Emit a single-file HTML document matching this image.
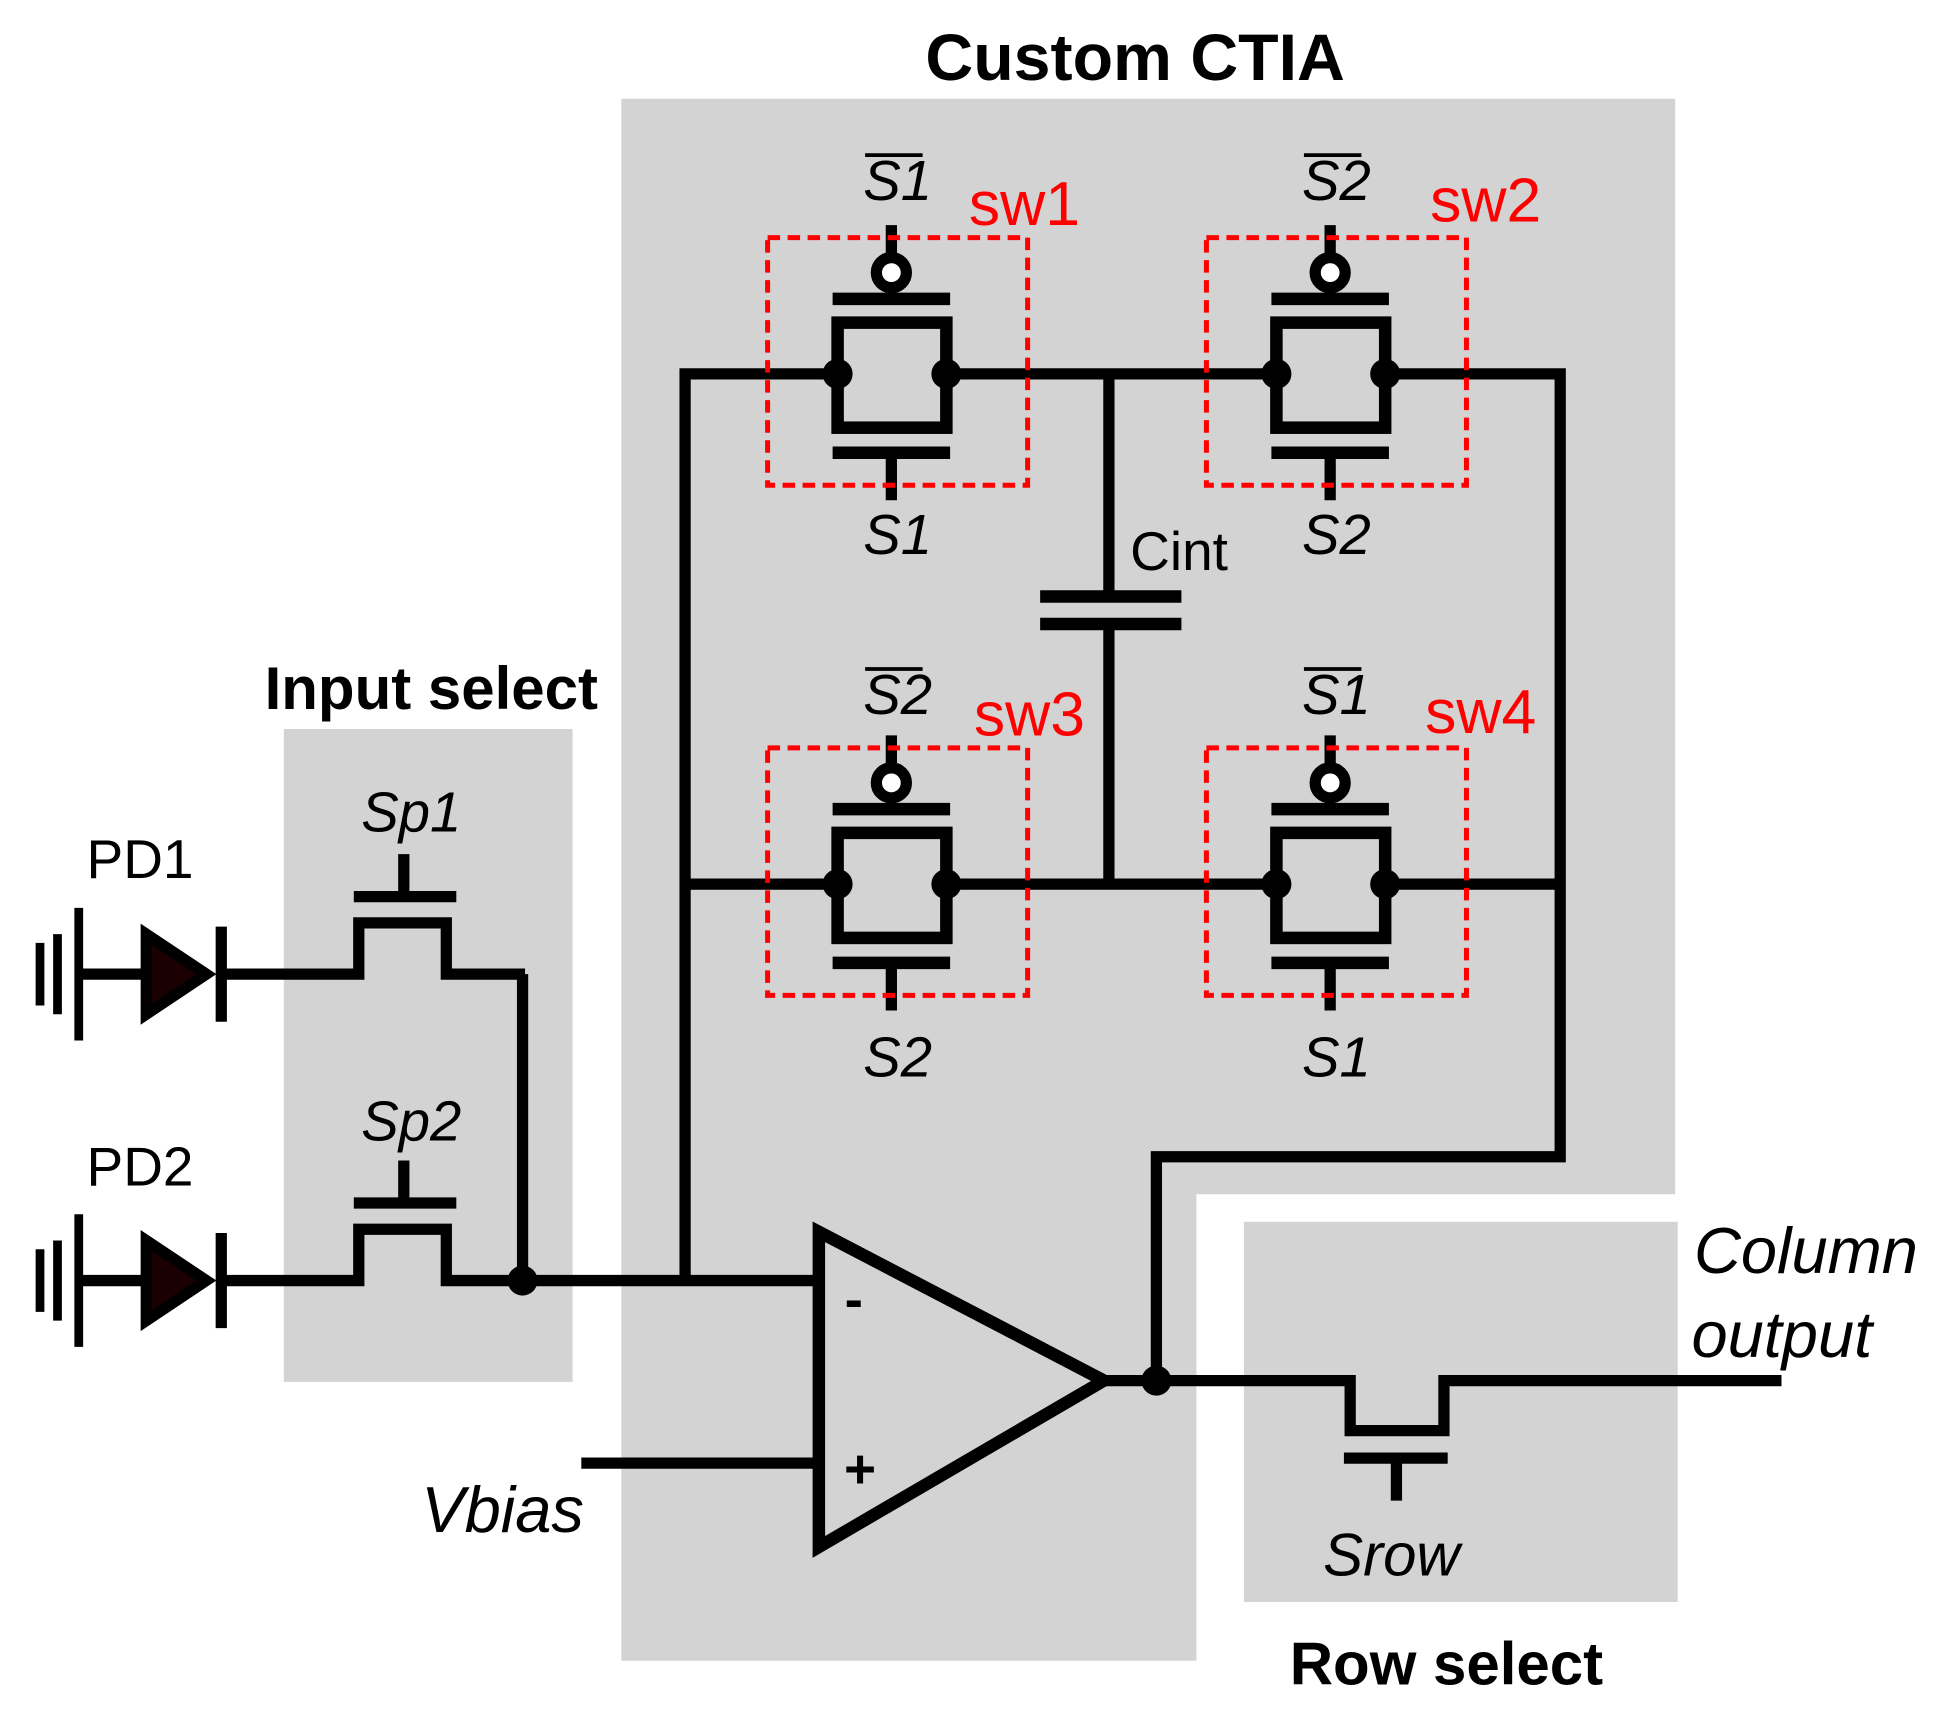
<!DOCTYPE html>
<html><head><style>html,body{margin:0;padding:0;background:#fff}svg{display:block}</style></head>
<body>
<svg width="1959" height="1712" viewBox="0 0 1567 1369" preserveAspectRatio="none" xmlns="http://www.w3.org/2000/svg">
<defs>
<g id="sw">
  <line x1="0" y1="-119" x2="0" y2="-80" stroke="#000" stroke-width="9"/>
  <circle cx="0" cy="-81" r="12" fill="#fff" stroke="#000" stroke-width="9"/>
  <line x1="-47" y1="-60" x2="47" y2="-60" stroke="#000" stroke-width="10"/>
  <rect x="-43" y="-41" width="87" height="84" fill="none" stroke="#000" stroke-width="10"/>
  <line x1="-47" y1="63" x2="47" y2="63" stroke="#000" stroke-width="10"/>
  <line x1="0" y1="63" x2="0" y2="101" stroke="#000" stroke-width="9"/>
  <circle cx="-43" cy="0" r="12" fill="#000"/>
  <circle cx="44" cy="0" r="12" fill="#000"/>
  <rect x="-99" y="-109" width="208" height="198" fill="none" stroke="#f00" stroke-width="4" stroke-dasharray="10,6"/>
</g>
<g id="pd">
  <line x1="32" y1="-25" x2="32" y2="25" stroke="#000" stroke-width="7"/>
  <line x1="46" y1="-32" x2="46" y2="32" stroke="#000" stroke-width="7"/>
  <line x1="63" y1="-53" x2="63" y2="53" stroke="#000" stroke-width="7"/>
  <line x1="63" y1="0" x2="115" y2="0" stroke="#000" stroke-width="9"/>
  <polygon points="117,-32 117,32 165,0" fill="#1a0000" stroke="#000" stroke-width="9"/>
  <line x1="177" y1="-38" x2="177" y2="38" stroke="#000" stroke-width="9"/>
  <polyline points="177,0 287,0 287,-41 357,-41 357,0 420,0" fill="none" stroke="#000" stroke-width="9"/>
  <line x1="283" y1="-62" x2="365" y2="-62" stroke="#000" stroke-width="9"/>
  <line x1="323" y1="-62" x2="323" y2="-96" stroke="#000" stroke-width="9"/>
</g>
</defs>
<path d="M497 79 H1340 V955 H957 V1328 H497 Z" fill="#d3d3d3"/>
<rect x="227" y="583" width="231" height="522" fill="#d3d3d3"/>
<rect x="995" y="977" width="347" height="304" fill="#d3d3d3"/>

<g font-family="Liberation Sans, Arial, sans-serif" font-weight="bold">
<text x="908" y="64" font-size="53" text-anchor="middle">Custom CTIA</text>
<text x="345" y="567" font-size="48" text-anchor="middle">Input select</text>
<text x="1157" y="1347" font-size="48" text-anchor="middle">Row select</text>
</g>

<g stroke="#000" stroke-width="9" fill="none">
  <polyline points="670,299 548,299 548,1024"/>
  <line x1="757" y1="299" x2="1020" y2="299"/>
  <polyline points="1108,299 1248,299 1248,925 925,925 925,1104"/>
  <line x1="548" y1="707" x2="670" y2="707"/>
  <line x1="757" y1="707" x2="1020" y2="707"/>
  <line x1="1108" y1="707" x2="1248" y2="707"/>
  <line x1="887" y1="299" x2="887" y2="475"/>
  <line x1="887" y1="499" x2="887" y2="707"/>
  <line x1="832" y1="477" x2="945" y2="477" stroke-width="10"/>
  <line x1="832" y1="499" x2="945" y2="499" stroke-width="10"/>
  <line x1="418" y1="779" x2="418" y2="1024"/>
  <line x1="418" y1="1024" x2="655" y2="1024"/>
  <line x1="465" y1="1170" x2="655" y2="1170"/>
  <polygon points="655,985 655,1237 883,1104" stroke-width="10"/>
  <polyline points="883,1104 1080,1104 1080,1144 1155,1144 1155,1104 1425,1104"/>
  <line x1="1075" y1="1166" x2="1158" y2="1166"/>
  <line x1="1117" y1="1166" x2="1117" y2="1200"/>
</g>
<circle cx="418" cy="1024" r="12" fill="#000"/>
<circle cx="925" cy="1104" r="12" fill="#000"/>

<use href="#sw" x="713" y="299"/>
<use href="#sw" x="1064" y="299"/>
<use href="#sw" x="713" y="707"/>
<use href="#sw" x="1064" y="707"/>
<use href="#pd" x="0" y="779"/>
<use href="#pd" x="0" y="1024"/>

<g font-family="Liberation Sans, Arial, sans-serif" font-size="45" font-style="italic" text-anchor="middle">
  <text x="718" y="160">S1</text><line x1="692" y1="124" x2="738" y2="124" stroke="#000" stroke-width="3"/>
  <text x="718" y="443">S1</text>
  <text x="1069" y="160">S2</text><line x1="1043" y1="124" x2="1089" y2="124" stroke="#000" stroke-width="3"/>
  <text x="1069" y="443">S2</text>
  <text x="718" y="571">S2</text><line x1="692" y1="535" x2="738" y2="535" stroke="#000" stroke-width="3"/>
  <text x="718" y="861">S2</text>
  <text x="1069" y="571">S1</text><line x1="1043" y1="535" x2="1089" y2="535" stroke="#000" stroke-width="3"/>
  <text x="1069" y="861">S1</text>
  <text x="329" y="665">Sp1</text>
  <text x="329" y="912">Sp2</text>
  <text x="1113" y="1260" font-size="48">Srow</text>
  <text x="402" y="1225" font-size="52">Vbias</text>
  <text x="1355" y="1018" font-size="52" text-anchor="start">Column</text>
  <text x="1353" y="1085" font-size="52" text-anchor="start">output</text>
</g>
<g font-family="Liberation Sans, Arial, sans-serif" font-size="44">
  <text x="904" y="456">Cint</text>
  <text x="112" y="702" text-anchor="middle">PD1</text>
  <text x="112" y="948" text-anchor="middle">PD2</text>
</g>
<g font-family="Liberation Sans, Arial, sans-serif" font-size="50" fill="#f00">
  <text x="775" y="180">sw1</text>
  <text x="1144" y="177">sw2</text>
  <text x="779" y="588">sw3</text>
  <text x="1140" y="586">sw4</text>
</g>
<g font-family="Liberation Sans, Arial, sans-serif" font-weight="bold" font-size="44" text-anchor="middle">
  <text x="683" y="1054">-</text>
  <text x="688" y="1190">+</text>
</g>
</svg>
</body></html>
